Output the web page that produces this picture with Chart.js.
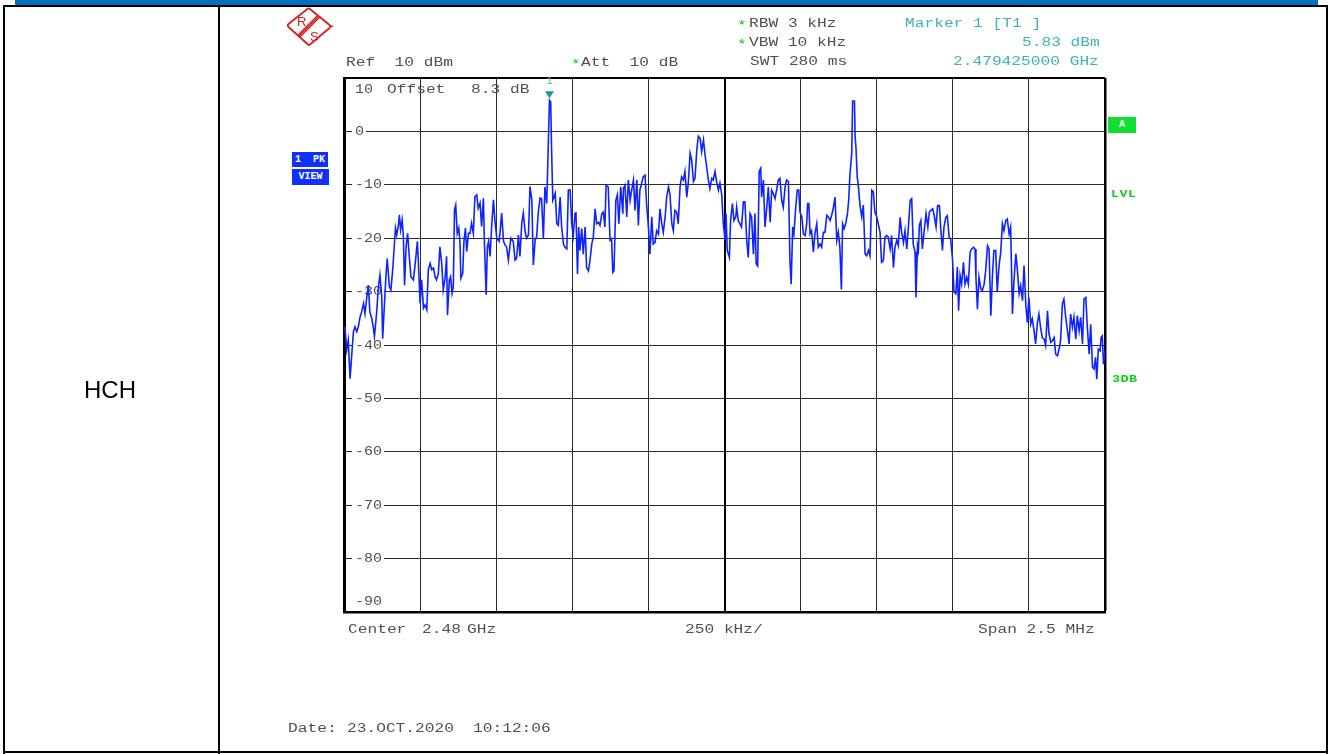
<!DOCTYPE html>
<html><head><meta charset="utf-8">
<script src="https://cdn.jsdelivr.net/npm/chart.js@4/dist/chart.umd.min.js"></script>
<style>
html,body{margin:0;padding:0;background:#fff;}
#wrap{position:relative;width:1331px;height:754px;overflow:hidden;background:#fff;}
#c{position:absolute;left:0;top:0;}
.t{position:absolute;font-family:"Liberation Mono","Courier New",monospace;white-space:pre;transform-origin:0 0;line-height:1;}
.ln{position:absolute;background:#000;}
.box{position:absolute;color:#fff;font-family:"Liberation Mono",monospace;font-weight:bold;font-size:10px;line-height:1;display:flex;align-items:center;justify-content:center;}
</style></head><body>
<div id="wrap">
<canvas id="c" width="1331" height="754"></canvas>
<div class="ln" style="left:15px;top:0;width:1303px;height:5px;background:#0070c0"></div>
<div class="ln" style="left:3px;top:5px;width:1325px;height:2px"></div>
<div class="ln" style="left:3px;top:5px;width:2px;height:749px"></div>
<div class="ln" style="left:218px;top:5px;width:2px;height:749px"></div>
<div class="ln" style="left:1326px;top:5px;width:2px;height:749px"></div>
<div class="ln" style="left:3px;top:751px;width:1325px;height:2px"></div>
<div style="position:absolute;left:0;width:220px;top:376px;text-align:center;font-family:'Liberation Sans',Arial,sans-serif;font-size:24px;line-height:28px;color:#000">HCH</div>
<svg style="position:absolute;left:286px;top:7px" width="48" height="40" viewBox="0 0 48 40">
 <g fill="none" stroke="#d42020">
  <path d="M22 1.5 Q23 1 24 2 L43.5 18 Q45 19.5 43.5 21 L24 37.5 Q23 38.5 22 37.5 L2.5 20 Q1 18.5 2.5 17 Z" stroke-width="1.8" stroke-linejoin="round"/>
  <path d="M32 8 L12 28 M34 10 L14 30 M33 9 L13 29" stroke-width="1.1"/>
  <path d="M44 19 L47 19.5" stroke-width="1.5"/>
 </g>
 <text x="11" y="19" font-size="13" fill="#d42020" font-family="Liberation Sans,Arial">R</text>
 <text x="24" y="34" font-size="13" fill="#d42020" font-family="Liberation Sans,Arial">S</text>
</svg>
<div class="box" style="left:292px;top:152px;width:36px;height:15px;background:#1030ff">1&nbsp;&nbsp;PK</div>
<div class="box" style="left:292px;top:169px;width:37px;height:16px;background:#1030ff">VIEW</div>
<div class="box" style="left:1108px;top:117px;width:28px;height:16px;background:#11dd33">A</div>
</div>
<script>
// ---- Trace data: frequency offset from start (2.47875 GHz) in kHz, level in dBm ----
const traceFreqKHz = [
  0, 3, 9, 14, 20, 25, 31, 36, 42, 47,
  53, 58, 64, 69, 75, 80, 85, 91, 96, 100,
  107, 113, 118, 124, 127, 131, 138, 142, 149, 154,
  160, 164, 169, 173, 179, 182, 186, 191, 195, 199,
  204, 209, 215, 220, 228, 235, 241, 245, 250, 255,
  261, 266, 272, 277, 283, 288, 294, 299, 304, 310,
  315, 321, 326, 332, 337, 340, 346, 350, 355, 359,
  363, 367, 372, 377, 381, 384, 390, 394, 399, 403,
  409, 414, 419, 425, 430, 436, 441, 447, 452, 458,
  461, 467, 471, 475, 480, 485, 491, 496, 502, 510,
  518, 524, 529, 534, 540, 548, 556, 562, 567, 573,
  578, 584, 589, 595, 600, 606, 611, 617, 622, 628,
  633, 638, 644, 649, 655, 660, 666, 671, 675, 679,
  682, 686, 690, 694, 699, 704, 710, 715, 721, 726,
  732, 737, 743, 748, 753, 759, 762, 767, 771, 775,
  781, 786, 792, 797, 803, 808, 814, 819, 825, 830,
  836, 841, 847, 852, 857, 861, 868, 874, 879, 883,
  887, 893, 898, 903, 909, 916, 918, 923, 929, 934,
  940, 945, 951, 956, 962, 967, 972, 978, 983, 989,
  994, 1000, 1005, 1011, 1016, 1022, 1027, 1033, 1038, 1044,
  1049, 1055, 1060, 1066, 1071, 1077, 1082, 1087, 1093, 1098,
  1104, 1109, 1115, 1120, 1126, 1131, 1137, 1142, 1148, 1153,
  1159, 1164, 1170, 1175, 1181, 1186, 1192, 1197, 1202, 1208,
  1213, 1219, 1224, 1230, 1235, 1241, 1246, 1252, 1255, 1259,
  1266, 1270, 1276, 1281, 1287, 1290, 1295, 1301, 1306, 1312,
  1317, 1323, 1328, 1334, 1339, 1345, 1350, 1354, 1359, 1364,
  1369, 1372, 1378, 1383, 1389, 1394, 1400, 1405, 1410, 1416,
  1421, 1427, 1432, 1438, 1443, 1449, 1454, 1460, 1465, 1469,
  1474, 1478, 1484, 1489, 1494, 1498, 1504, 1509, 1515, 1520,
  1523, 1527, 1531, 1536, 1542, 1547, 1553, 1558, 1564, 1569,
  1575, 1580, 1586, 1591, 1597, 1602, 1608, 1613, 1619, 1624,
  1629, 1634, 1638, 1643, 1648, 1654, 1658, 1662, 1668, 1671,
  1677, 1679, 1682, 1686, 1690, 1695, 1701, 1706, 1712, 1717,
  1723, 1728, 1734, 1739, 1744, 1750, 1755, 1761, 1766, 1772,
  1777, 1783, 1788, 1794, 1799, 1805, 1810, 1816, 1821, 1827,
  1832, 1838, 1843, 1849, 1854, 1860, 1865, 1870, 1876, 1879,
  1884, 1887, 1890, 1895, 1900, 1905, 1912, 1918, 1923, 1928,
  1934, 1939, 1945, 1950, 1956, 1960, 1966, 1971, 1977, 1982,
  1988, 1993, 1999, 2004, 2010, 2015, 2019, 2024, 2029, 2035,
  2040, 2046, 2051, 2057, 2062, 2068, 2073, 2076, 2081, 2086,
  2092, 2097, 2103, 2108, 2114, 2119, 2125, 2130, 2135, 2141,
  2146, 2152, 2157, 2163, 2168, 2174, 2179, 2185, 2190, 2196,
  2201, 2207, 2212, 2218, 2223, 2229, 2234, 2240, 2245, 2250,
  2256, 2261, 2267, 2272, 2278, 2283, 2289, 2294, 2300, 2305,
  2311, 2316, 2322, 2327, 2333, 2338, 2344, 2349, 2354, 2360,
  2365, 2371, 2376, 2382, 2387, 2393, 2398, 2404, 2409, 2415,
  2420, 2426, 2431, 2437, 2442, 2448, 2453, 2459, 2464, 2469,
  2473, 2478, 2484, 2487, 2491, 2495, 2500
];
const traceLevelDbm = [
  -37, -36.6, -40.9, -39.1, -46.3, -42.2, -37.5, -36.6, -37.5, -36.6,
  -34.7, -33.8, -32.2, -34.1, -30.9, -28.8, -33.8, -35.0, -36.6, -38.4,
  -34.1, -29.1, -26.9, -30.9, -38.8, -34.4, -26.9, -23.8, -29.1, -29.7,
  -25.9, -22.5, -18.1, -19.4, -17.5, -15.6, -18.4, -16.6, -19.7, -28.8,
  -21.6, -19.1, -23.8, -27.2, -27.8, -24.1, -20.6, -25.3, -32.2, -27.8,
  -33.1, -32.5, -33.4, -25.9, -24.7, -25.9, -25.6, -27.2, -27.8, -26.6,
  -21.6, -24.7, -29.7, -27.5, -23.4, -34.4, -27.8, -27.2, -30.3, -29.1,
  -14.7, -13.8, -19.1, -18.1, -20.9, -27.5, -26.6, -20.6, -18.1, -22.5,
  -19.1, -19.1, -17.2, -19.1, -12.2, -11.9, -14.4, -13.4, -17.8, -12.5,
  -20.3, -30.6, -21.6, -20.6, -23.4, -17.8, -12.8, -16.9, -20.0, -20.6,
  -15.3, -20.6, -21.3, -21.6, -24.1, -20.0, -20.6, -24.1, -23.8, -19.4,
  -23.4, -17.2, -15.3, -18.8, -20.0, -19.4, -10.3, -12.8, -25.0, -20.3,
  -19.7, -15.3, -12.5, -12.6, -20.1, -10.4, -13.5, -2.8, 5.83, 5.5,
  -3.5, -12.9, -12.3, -11.6, -17.3, -17.6, -12.3, -17.9, -21.1, -21.7,
  -22.0, -11.0, -11.0, -17.3, -19.5, -15.4, -15.1, -26.7, -17.9, -22.3,
  -18.2, -23.0, -17.9, -25.5, -26.1, -24.2, -21.1, -19.8, -14.5, -17.3,
  -17.0, -17.6, -15.4, -15.1, -17.9, -10.1, -10.4, -20.4, -20.1, -26.4,
  -26.1, -12.9, -11.9, -17.3, -10.4, -15.4, -10.7, -10.1, -16.0, -9.1,
  -12.9, -11.0, -9.1, -14.8, -9.1, -17.6, -11.0, -9.7, -8.5, -8.2,
  -13.5, -17.9, -23.0, -16.0, -21.1, -20.8, -18.6, -19.2, -14.5, -17.3,
  -18.9, -16.0, -12.3, -10.4, -11.9, -17.3, -18.6, -14.8, -15.1, -17.3,
  -10.4, -8.5, -9.1, -7.5, -12.3, -9.7, -4.1, -5.3, -9.4, -8.8,
  -3.5, -0.9, -1.3, -3.8, -1.6, -4.4, -6.9, -9.1, -10.7, -8.8,
  -9.1, -7.5, -9.4, -11.0, -9.7, -11.9, -17.3, -20.4, -15.4, -22.3,
  -23.6, -16.7, -13.5, -16.7, -16.0, -14.2, -16.7, -17.3, -17.9, -13.2,
  -13.2, -20.4, -23.6, -15.4, -16.0, -23.0, -15.4, -24.8, -25.2, -7.5,
  -6.9, -12.3, -9.1, -17.9, -14.2, -10.4, -17.0, -11.0, -11.6, -12.6,
  -11.0, -9.1, -8.8, -12.9, -14.2, -10.4, -9.1, -9.4, -24.2, -28.6,
  -17.9, -19.2, -14.2, -11.0, -11.0, -15.1, -16.0, -19.2, -19.5, -17.3,
  -13.5, -13.5, -19.2, -18.6, -22.6, -19.2, -17.3, -21.7, -21.1, -21.7,
  -18.9, -18.9, -15.7, -16.0, -16.7, -15.7, -14.2, -12.3, -20.4, -18.9,
  -21.7, -29.6, -17.3, -18.2, -17.3, -15.4, -12.9, -8.2, -4.1, 5.7,
  5.7, -0.9, -3.1, -8.5, -10.4, -13.8, -16.0, -13.8, -23.0, -23.3,
  -22.3, -23.3, -11.0, -11.3, -15.1, -16.0, -17.3, -18.9, -24.5, -24.2,
  -19.8, -19.5, -19.8, -22.0, -19.5, -25.5, -21.7, -20.4, -21.4, -16.1,
  -18.9, -20.8, -18.6, -22.0, -17.9, -12.9, -12.6, -21.1, -22.6, -31.1,
  -21.4, -22.3, -17.6, -16.7, -22.0, -19.2, -15.4, -17.9, -15.1, -14.8,
  -14.5, -15.8, -17.9, -13.9, -13.9, -17.9, -22.3, -17.9, -16.1, -15.8,
  -19.8, -20.1, -23.9, -30.1, -30.4, -25.4, -33.6, -27.0, -28.6, -24.5,
  -28.6, -27.3, -28.6, -22.6, -22.0, -21.7, -22.0, -27.3, -33.3, -27.3,
  -29.5, -29.8, -28.6, -26.1, -21.4, -22.0, -34.5, -27.3, -22.3, -22.3,
  -30.1, -25.1, -22.9, -17.3, -18.6, -16.7, -16.4, -19.2, -17.9, -34.2,
  -27.9, -22.9, -25.8, -30.4, -28.9, -31.7, -25.1, -32.6, -35.8, -31.1,
  -36.1, -35.1, -37.3, -39.8, -35.8, -34.2, -37.0, -38.6, -38.9, -40.1,
  -33.6, -37.9, -39.5, -39.2, -38.6, -41.7, -42.0, -40.8, -39.2, -32.3,
  -31.4, -34.8, -37.0, -39.8, -34.2, -36.7, -34.8, -38.9, -34.5, -37.3,
  -34.8, -39.8, -31.4, -31.1, -36.7, -41.7, -36.1, -44.2, -44.5, -42.3,
  -46.4, -40.8, -41.1, -38.6, -38.3, -43.6, -41.0
];
// ---- Axes ----
const spanKHz = 2500;          // span 2.5 MHz, 250 kHz/div
const divKHz = 250;
const yMin = -90, yMax = 10;
const yTickValues = [10, 0, -10, -20, -30, -40, -50, -60, -70, -80, -90];
const yTickLabels = ['10', '0', '-10', '-20', '-30', '-40', '-50', '-60', '-70', '-80', '-90'];
// ---- Marker ----
const markerFreqKHz = 675;     // 2.479425000 GHz
const markerLevelDbm = 5.83;
const markerLabel = '1';

// ---- Texts (annotation) ----
const GRAY = '#505050', TEAL = '#3db3b3', GREEN = '#00cc00';
const headerTexts = [
  ['*', 737, 25, GREEN], ['RBW 3 kHz', 749, 23.5, GRAY],
  ['*', 737, 44, GREEN], ['VBW 10 kHz', 749, 42.5, GRAY],
  ['SWT 280 ms', 750, 61.5, GRAY],
  ['Marker 1 [T1 ]', 905, 23.5, TEAL],
  ['5.83 dBm', 1022, 42.5, TEAL],
  ['2.479425000 GHz', 953, 61.5, TEAL],
  ['Ref  10 dBm', 346, 62, GRAY],
  ['*', 571, 64, GREEN], ['Att  10 dB', 581, 62, GRAY],
  ['Offset', 387, 89, GRAY], ['8.3', 471, 89, GRAY], ['dB', 510, 89, GRAY],
  ['Center', 348, 629, GRAY], ['2.48', 422, 629, GRAY], ['GHz', 467, 629, GRAY],
  ['250 kHz/', 685, 629, GRAY],
  ['Span 2.5 MHz', 978, 629, GRAY],
  ['Date:', 288, 728, GRAY], ['23.OCT.2020', 347, 728, GRAY], ['10:12:06', 473, 728, GRAY]
];
const sideTexts = [['LVL', 1111, 194], ['3DB', 1112, 379]];

const wrap = document.getElementById('wrap');
function addText(txt, x, cy, color, size, sx, ls, weight) {
  const d = document.createElement('div');
  d.className = 't';
  d.textContent = txt;
  d.style.left = x + 'px';
  d.style.top = (cy - size * 0.44) + 'px';
  d.style.fontSize = size + 'px';
  d.style.color = color;
  d.style.letterSpacing = ls + 'px';
  d.style.transform = 'scaleX(' + sx + ')';
  if (weight) d.style.fontWeight = weight;
  wrap.appendChild(d);
}
headerTexts.forEach(([t, x, y, c]) => addText(t, x, y, c, 12, 1.35, 0, null));
sideTexts.forEach(([t, x, y]) => addText(t, x, y, '#11cc22', 10, 1.35, 0.3, 'bold'));

const pts = traceFreqKHz.map((f, i) => ({ x: f, y: traceLevelDbm[i] }));

const overlay = {
  id: 'overlay',
  beforeDatasetsDraw(chart) {
    const { ctx, scales: { y } } = chart;
    const left = chart.chartArea.left;
    ctx.save();
    ctx.font = '12px "Liberation Mono", monospace';
    ctx.textBaseline = 'middle';
    yTickValues.forEach((v, i) => {
      let py = y.getPixelForValue(v);
      const lab = yTickLabels[i];
      const w = ctx.measureText(lab).width * 1.25;
      const lx = left + 11;
      if (v === yMax) py += 11;
      else if (v === yMin) py -= 11;
      else {
        ctx.fillStyle = '#fff';
        ctx.fillRect(lx - 3, py - 5, w + 5, 10);
      }
      ctx.fillStyle = GRAY;
      ctx.save();
      ctx.translate(lx, py + 0.5);
      ctx.scale(1.25, 1);
      ctx.fillText(lab, 0, 0);
      ctx.restore();
    });
    ctx.restore();
  },
  afterDatasetsDraw(chart) {
    const { ctx, scales: { x, y } } = chart;
    const px = x.getPixelForValue(markerFreqKHz);
    const py = y.getPixelForValue(markerLevelDbm);
    ctx.save();
    ctx.fillStyle = '#1a9a9a';
    ctx.beginPath();
    ctx.moveTo(px - 4.5, py - 9);
    ctx.lineTo(px + 4.5, py - 9);
    ctx.lineTo(px, py - 2);
    ctx.closePath();
    ctx.fill();
    ctx.fillStyle = TEAL;
    ctx.font = '11px "Liberation Mono", monospace';
    ctx.textAlign = 'center';
    ctx.textBaseline = 'middle';
    ctx.fillText(markerLabel, px, py - 19);
    ctx.restore();
  }
};

new Chart(document.getElementById('c'), {
  type: 'line',
  data: { datasets: [{ data: pts, borderColor: 'rgb(15,35,255)', borderWidth: 1.6, pointRadius: 0, tension: 0, fill: false }] },
  options: {
    responsive: false, animation: false, devicePixelRatio: 1,
    layout: { padding: { left: 344, top: 78, right: 226, bottom: 142 } },
    plugins: { legend: { display: false }, tooltip: { enabled: false } },
    scales: {
      x: {
        type: 'linear', min: 0, max: spanKHz,
        ticks: { display: false, stepSize: divKHz },
        grid: {
          drawTicks: false,
          color: c => (c.tick && (c.tick.value === spanKHz / 2 || c.tick.value === spanKHz)) ? '#000' : '#2a2a2a',
          lineWidth: c => !c.tick ? 1 : (c.tick.value === spanKHz ? 2.5 : (c.tick.value === spanKHz / 2 ? 2 : 1))
        },
        border: { display: true, color: '#000', width: 2.5 }
      },
      y: {
        min: yMin, max: yMax,
        ticks: { display: false, stepSize: 10 },
        grid: {
          drawTicks: false,
          color: c => (c.tick && c.tick.value === yMax) ? '#000' : '#2a2a2a',
          lineWidth: c => (c.tick && c.tick.value === yMax) ? 2 : 1
        },
        border: { display: true, color: '#000', width: 3 }
      }
    }
  },
  plugins: [overlay]
});
</script>
</body></html>
